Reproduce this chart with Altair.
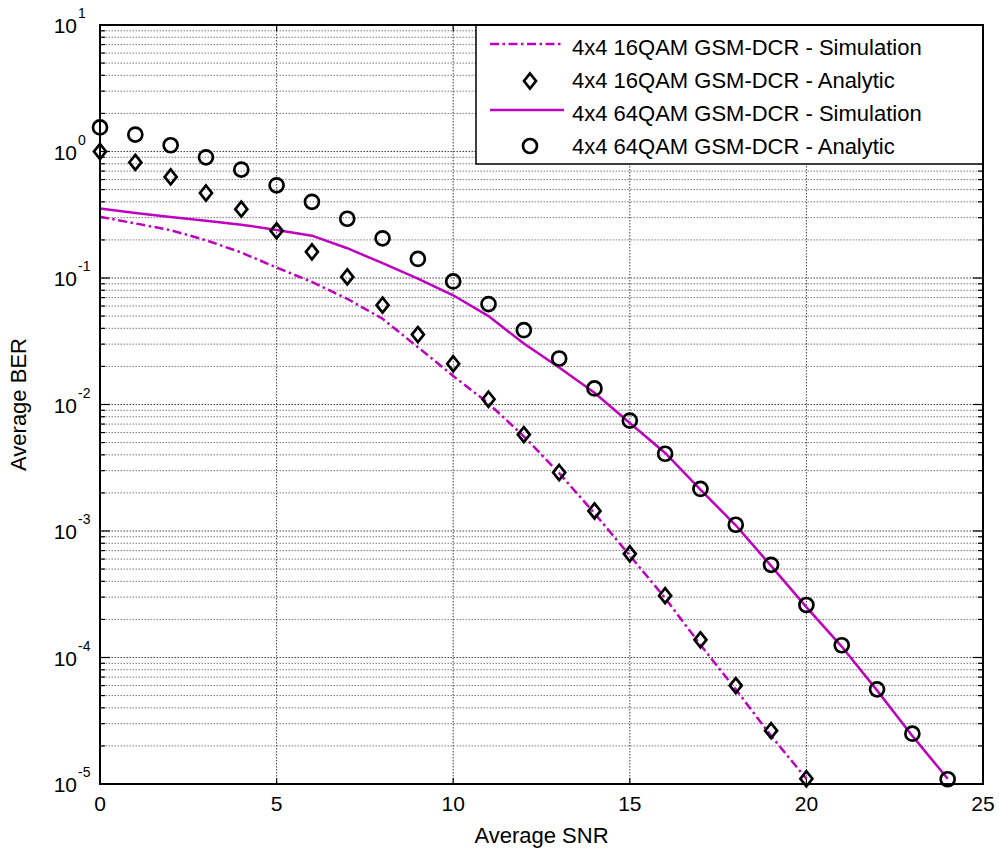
import altair as alt
import pandas as pd

FONT = "Liberation Sans"
MAGENTA = "#bf00bf"

# ---- data -----------------------------------------------------------------
snr_16 = list(range(0, 21))
snr_64 = list(range(0, 25))

ber_16_sim = [0.305, 0.27, 0.239, 0.199, 0.159, 0.121, 0.093, 0.0685, 0.0476,
              0.0284, 0.0168, 0.0102, 0.0056, 0.00287, 0.00138, 6.4e-4,
              2.95e-4, 1.26e-4, 5.6e-5, 2.4e-5, 1.1e-5]
ber_16_ana = [1.0, 0.82, 0.63, 0.47, 0.35, 0.236, 0.161, 0.102, 0.061, 0.0357,
              0.021, 0.011, 0.00578, 0.0029, 0.00144, 6.6e-4, 3.08e-4,
              1.38e-4, 6.0e-5, 2.64e-5, 1.1e-5]
ber_64_sim = [0.355, 0.326, 0.303, 0.283, 0.264, 0.24, 0.216, 0.172, 0.131,
              0.099, 0.073, 0.050, 0.0303, 0.0196, 0.0124, 0.00715, 0.00414,
              0.00212, 0.00111, 5.3e-4, 2.5e-4, 1.22e-4, 5.5e-5, 2.4e-5, 1.1e-5]
ber_64_ana = [1.55, 1.36, 1.12, 0.90, 0.72, 0.54, 0.40, 0.294, 0.206, 0.1415,
              0.094, 0.0622, 0.0387, 0.0231, 0.0134, 0.00746, 0.00408, 0.00215,
              0.00112, 5.4e-4, 2.6e-4, 1.25e-4, 5.6e-5, 2.5e-5, 1.09e-5]

labels = [
    "4x4 16QAM GSM-DCR - Simulation",
    "4x4 16QAM GSM-DCR - Analytic",
    "4x4 64QAM GSM-DCR - Simulation",
    "4x4 64QAM GSM-DCR - Analytic",
]
x_title = "Average SNR"
y_title = "Average BER"

x_ticks = [0, 5, 10, 15, 20, 25]
x_inner = [5, 10, 15, 20]
decades = [-5, -4, -3, -2, -1, 0, 1]

# ---- tables ---------------------------------------------------------------
df16s = pd.DataFrame({"snr": snr_16, "ber": ber_16_sim})
df16a = pd.DataFrame({"snr": snr_16, "ber": ber_16_ana})
df64s = pd.DataFrame({"snr": snr_64, "ber": ber_64_sim})
df64a = pd.DataFrame({"snr": snr_64, "ber": ber_64_ana})

major_df = pd.DataFrame({"v": [10.0 ** e for e in decades],
                         "e": [str(e) for e in decades]})
minor_df = pd.DataFrame({"v": [k * 10.0 ** e for e in decades[:-1] for k in range(2, 10)]})
xin_df = pd.DataFrame({"s": x_inner})
xtick_df = pd.DataFrame({"s": x_ticks, "t": [str(t) for t in x_ticks]})
one = pd.DataFrame({"k": [0]})

W, H = 883, 759
xs = alt.Scale(domain=[0, 25], nice=False, zero=False)
ys = alt.Scale(type="log", domain=[1e-5, 10], nice=False)

X = lambda f: alt.X(f, scale=xs, axis=None)
Y = lambda f: alt.Y(f, scale=ys, axis=None)

# ---- grid -----------------------------------------------------------------
minor_style = dict(color="#7a7a7a", strokeWidth=1, strokeDash=[1.5, 1.5])
major_style = dict(color="#404040", strokeWidth=1, strokeDash=[1.5, 1.5])
hgrid_minor = alt.Chart(minor_df).mark_rule(**minor_style).encode(y=Y("v:Q"))
hgrid_major = alt.Chart(major_df).mark_rule(**major_style).encode(y=Y("v:Q"))
vgrid = alt.Chart(xin_df).mark_rule(**major_style).encode(x=X("s:Q"))

# ---- inward ticks on all four sides ----------------------------------------
tick = dict(color="black", strokeWidth=1.2)
ticks = [
    alt.Chart(major_df).mark_rule(**tick).encode(y=Y("v:Q"), x=alt.value(0), x2=alt.value(10)),
    alt.Chart(minor_df).mark_rule(**tick).encode(y=Y("v:Q"), x=alt.value(0), x2=alt.value(5)),
    alt.Chart(major_df).mark_rule(**tick).encode(y=Y("v:Q"), x=alt.value(W), x2=alt.value(W - 10)),
    alt.Chart(minor_df).mark_rule(**tick).encode(y=Y("v:Q"), x=alt.value(W), x2=alt.value(W - 5)),
    alt.Chart(xin_df).mark_rule(**tick).encode(x=X("s:Q"), y=alt.value(H), y2=alt.value(H - 6)),
    alt.Chart(xin_df).mark_rule(**tick).encode(x=X("s:Q"), y=alt.value(0), y2=alt.value(6)),
]

# ---- curves ---------------------------------------------------------------
DASHDOT = [9, 3.5, 2.5, 3.5]
DIAMOND = "M0,-1L0.8,0L0,1L-0.8,0Z"

line16 = alt.Chart(df16s).mark_line(color=MAGENTA, strokeWidth=2.5, strokeDash=DASHDOT).encode(
    x=X("snr:Q"), y=Y("ber:Q"))
line64 = alt.Chart(df64s).mark_line(color=MAGENTA, strokeWidth=2.5).encode(
    x=X("snr:Q"), y=Y("ber:Q"))
pts16 = alt.Chart(df16a).mark_point(shape=DIAMOND, size=225, filled=False, color="black",
                                    strokeWidth=2.7, opacity=1).encode(x=X("snr:Q"), y=Y("ber:Q"))
pts64 = alt.Chart(df64a).mark_point(shape="circle", size=196, filled=False, color="black",
                                    strokeWidth=2.7, opacity=1).encode(x=X("snr:Q"), y=Y("ber:Q"))

# ---- legend box (top-right, inside the axes) -------------------------------
LX0, LX1, LY1 = 376, W, 139
rows = [23, 56, 89, 122]
SYM_X0, SYM_X1, SYM_C, TXT_X = 390, 464, 430, 472

legend = [
    alt.Chart(one).mark_rect(fill="white", stroke="black", strokeWidth=1.5).encode(
        x=alt.value(LX0), x2=alt.value(LX1), y=alt.value(0), y2=alt.value(LY1)),
    alt.Chart(one).mark_rule(color=MAGENTA, strokeWidth=2.5, strokeDash=DASHDOT).encode(
        x=alt.value(SYM_X0), x2=alt.value(SYM_X1), y=alt.value(rows[0] - 4)),
    alt.Chart(one).mark_point(shape=DIAMOND, size=225, filled=False, color="black",
                              strokeWidth=2.7, opacity=1).encode(
        x=alt.value(SYM_C), y=alt.value(rows[1])),
    alt.Chart(one).mark_rule(color=MAGENTA, strokeWidth=2.5).encode(
        x=alt.value(SYM_X0), x2=alt.value(SYM_X1), y=alt.value(rows[2] - 4)),
    alt.Chart(one).mark_point(shape="circle", size=196, filled=False, color="black",
                              strokeWidth=2.7, opacity=1).encode(
        x=alt.value(SYM_C), y=alt.value(rows[3] - 1)),
]
for lab, ry in zip(labels, rows):
    legend.append(
        alt.Chart(one).mark_text(align="left", baseline="middle", fontSize=22,
                                 font=FONT, color="black").encode(
            x=alt.value(TXT_X), y=alt.value(ry), text=alt.value(lab)))

# ---- axis frame -------------------------------------------------------------
frame = alt.Chart(one).mark_rect(fillOpacity=0, stroke="black", strokeWidth=2).encode(
    x=alt.value(0), x2=alt.value(W), y=alt.value(0), y2=alt.value(H))

# ---- tick labels and axis titles ---------------------------------------------
mant = alt.Chart(major_df).mark_text(align="right", baseline="middle", fontSize=21,
                                     font=FONT, color="black", dy=2).encode(
    x=alt.value(-23), y=Y("v:Q"), text=alt.value("10"))
expo = alt.Chart(major_df).mark_text(align="left", baseline="middle", fontSize=14,
                                     font=FONT, color="black", dy=-11).encode(
    x=alt.value(-22), y=Y("v:Q"), text="e:N")
xlab = alt.Chart(xtick_df).mark_text(align="center", baseline="middle", fontSize=21,
                                     font=FONT, color="black").encode(
    x=X("s:Q"), y=alt.value(H + 21), text="t:N")
xttl = alt.Chart(one).mark_text(align="center", baseline="middle", fontSize=22,
                                font=FONT, color="black").encode(
    x=alt.value(W / 2), y=alt.value(H + 52), text=alt.value(x_title))
yttl = alt.Chart(one).mark_text(align="center", baseline="middle", fontSize=22,
                                font=FONT, color="black", angle=270).encode(
    x=alt.value(-81), y=alt.value(H / 2), text=alt.value(y_title))

chart = alt.layer(
    hgrid_minor, hgrid_major, vgrid, *ticks, line16, line64, pts16, pts64,
    *legend, frame, mant, expo, xlab, xttl, yttl,
).properties(
    width=W, height=H,
    padding={"left": 100, "top": 25, "right": 16, "bottom": 65},
    autosize=alt.AutoSizeParams(type="none"),
).configure(
    font=FONT, background="white",
).configure_view(
    stroke="black", strokeWidth=2,
)

chart.save("out.html", embed_options={"renderer": "svg", "actions": False})
